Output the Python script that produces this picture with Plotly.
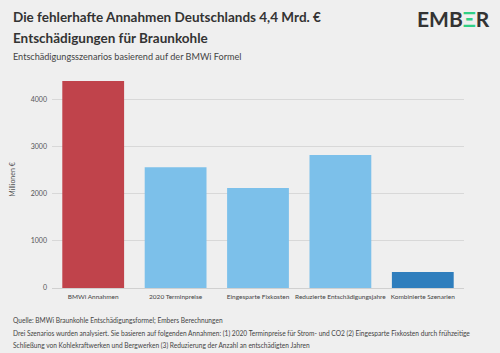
import plotly.graph_objects as go

categories = ["BMWi Annahmen", "2020 Terminpreise", "Eingesparte Fixkosten",
              "Reduzierte Entschädigungsjahre", "Kombinierte Szenarien"]
values = [4390, 2560, 2120, 2820, 340]
bar_colors = ["#c0434b", "#7cc0ea", "#7cc0ea", "#7cc0ea", "#2f7ebd"]
y_ticks = [0, 1000, 2000, 3000, 4000]

W, H = 500, 353
BG = "#efefef"
FONT = "Lato, Roboto, sans-serif"

fig = go.Figure()
fig.add_trace(go.Bar(x=categories, y=values, marker=dict(color=bar_colors, line=dict(width=0)),
                     hoverinfo="x+y"))

fig.update_layout(
    width=W, height=H, paper_bgcolor=BG, plot_bgcolor=BG,
    margin=dict(l=47, r=36, t=71, b=65),
    bargap=0.25, showlegend=False,
    font=dict(family=FONT, color="#333"),
)
fig.update_xaxes(showgrid=False, showline=False, ticks="", tickangle=0,
                 tickfont=dict(size=6.5, color="#444"), ticklabelstandoff=3)
fig.update_yaxes(range=[0, 4600], tickvals=y_ticks, ticktext=[str(v) for v in y_ticks],
                 showgrid=True, gridcolor="#d8d8d8", gridwidth=1, zeroline=True,
                 zerolinecolor="#d0d0d0", zerolinewidth=1,
                 tickfont=dict(size=7, color="#555"), ticklabelstandoff=4,
                 title=dict(text="Millionen €", font=dict(size=7, color="#555"), standoff=14))

ann = []
ann.append(dict(text="<b>Die fehlerhafte Annahmen Deutschlands 4,4 Mrd. €</b>", x=5, y=17,
                font=dict(size=13.5, color="#333")))
ann.append(dict(text="<b>Entschädigungen für Braunkohle</b>", x=5, y=38,
                font=dict(size=13.5, color="#333")))
ann.append(dict(text="Entschädigungsszenarios basierend auf der BMWi Formel", x=5, y=57,
                font=dict(size=9.1, color="#444")))
ann.append(dict(text="Quelle: BMWi Braunkohle Entschädigungsformel; Embers Berechnungen", x=5, y=320,
                font=dict(size=6.6, color="#444")))
ann.append(dict(text="Drei Szenarios wurden analysiert. Sie basieren auf folgenden Annahmen: (1) 2020 Terminpreise für Strom- und CO2 (2) Eingesparte Fixkosten durch frühzeitige",
                x=5, y=333, font=dict(size=6.6, color="#444")))
ann.append(dict(text="Schließung von Kohlekraftwerken und Bergwerken (3) Reduzierung der Anzahl an entschädigten Jahren",
                x=5, y=345, font=dict(size=6.6, color="#444")))

annotations = []
for a in ann:
    annotations.append(dict(text=a["text"], x=a["x"] / W, y=1 - a["y"] / H, xref="paper", yref="paper",
                            xanchor="left", yanchor="middle", showarrow=False, font=a["font"]))
annotations.append(dict(text="<b>EMB<span style='color:#2fcf85'>Ξ</span>R</b>", x=492 / W, y=1 - 19 / H,
                        xref="paper", yref="paper", xanchor="right", yanchor="middle", showarrow=False,
                        font=dict(size=21, color="#333", family=FONT)))
m = fig.layout.margin
pw = W - m.l - m.r
ph = H - m.t - m.b
for a in annotations:
    px = a["x"] * W
    py = (1 - a["y"]) * H
    a["x"] = (px - m.l) / pw
    a["y"] = 1 - (py - m.t) / ph
fig.update_layout(annotations=annotations)

fig.write_html("out.html")
